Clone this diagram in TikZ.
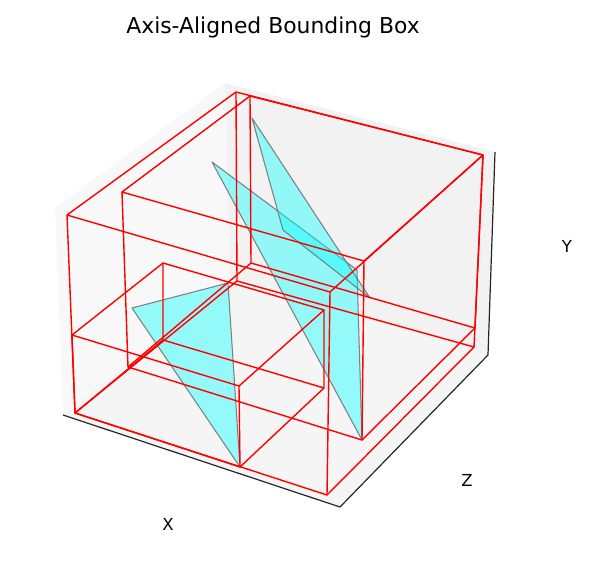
\documentclass[tikz,border=0pt]{standalone}
\usepackage{fontspec}
\setmainfont{DejaVu Sans}
\usepackage{tikz}
\definecolor{tricyan}{RGB}{0,255,255}
\definecolor{boxred}{RGB}{255,0,0}
\definecolor{edgegray}{RGB}{118,118,118}

\begin{document}
\begin{tikzpicture}[x=0.75pt,y=0.75pt,yscale=-1,xscale=1,
  axisline/.style={draw=black!85, line width=0.9pt},
  aabb/.style={draw=boxred, line width=1.05pt, line join=round},
  tri/.style={fill=tricyan, fill opacity=0.4, draw=edgegray, draw opacity=0.9, line width=0.8pt, line join=round},
  axlabel/.style={font=\fontsize{12.4}{14}\selectfont}]
%set diagram to the size of the reference
\useasboundingbox (0,0) rectangle (604,569);

%Shape: Left pane [id:pane_left]
\fill [color={rgb, 255:red, 248; green, 248; blue, 248 }] (55,208) -- (225,83) -- (230,280) -- (63,415) -- cycle ;
%Shape: Right pane [id:pane_right]
\fill [color={rgb, 255:red, 242; green, 242; blue, 242 }] (225,83) -- (495,152) -- (488,355) -- (230,280) -- cycle ;
%Shape: Floor pane [id:pane_floor]
\fill [color={rgb, 255:red, 245; green, 245; blue, 245 }] (63,415) -- (340,507) -- (488,355) -- (230,280) -- cycle ;

%Straight Lines [id:axis_x]
\draw [axisline]   (63,415) -- (340,507) ;
%Straight Lines [id:axis_z]
\draw [axisline]   (340,507) -- (488,355) ;
%Straight Lines [id:axis_y]
\draw [axisline]   (488,355) -- (495,152) ;

%Shape: Triangle [id:tri_low]
\draw [tri]   (132,308) -- (228,283) -- (240,467) -- cycle ;
%Shape: Triangle [id:tri_mid]
\draw [tri]   (212,162) -- (357,270) -- (362,440) -- cycle ;
%Shape: Triangle [id:tri_high]
\draw [tri]   (252,118) -- (283,230) -- (370,298) -- cycle ;

%Shape: Box, whole scene [id:box_root]
\draw [aabb]   (67,215) -- (330,292) -- (483,155) -- (236,92) -- cycle ;
\draw [aabb]   (75,413) -- (327,495) -- (474,347) -- (237,281) -- cycle ;
\draw [aabb]   (67,215) -- (75,413)  (330,292) -- (327,495)  (483,155) -- (474,347)  (236,92) -- (237,281) ;

%Shape: Box, upper pair [id:box_upper]
\draw [aabb]   (122,192) -- (364,261) -- (483,155) -- (250,96) -- cycle ;
\draw [aabb]   (128,367) -- (362,440) -- (475,328) -- (251,263) -- cycle ;
\draw [aabb]   (122,192) -- (128,367)  (364,261) -- (362,440)  (483,155) -- (475,328)  (250,96) -- (251,263) ;

%Shape: Box, lower one [id:box_lower]
\draw [aabb]   (72,335) -- (239,386) -- (324,310) -- (163,263) -- cycle ;
\draw [aabb]   (75,413) -- (240,467) -- (324,388) -- (163,340) -- cycle ;
\draw [aabb]   (72,335) -- (75,413)  (239,386) -- (240,467)  (324,310) -- (324,388)  (163,263) -- (163,340) ;

% Text Node
\draw (273,27) node (title) {\fontsize{16.4}{19}\selectfont Axis-Aligned Bounding Box};
% Text Node
\draw (168,524) node [axlabel] (xlabel) {X};
% Text Node
\draw (467,480) node [axlabel] (zlabel) {Z};
% Text Node
\draw (567,246) node [axlabel] (ylabel) {Y};

\end{tikzpicture}
\end{document}
